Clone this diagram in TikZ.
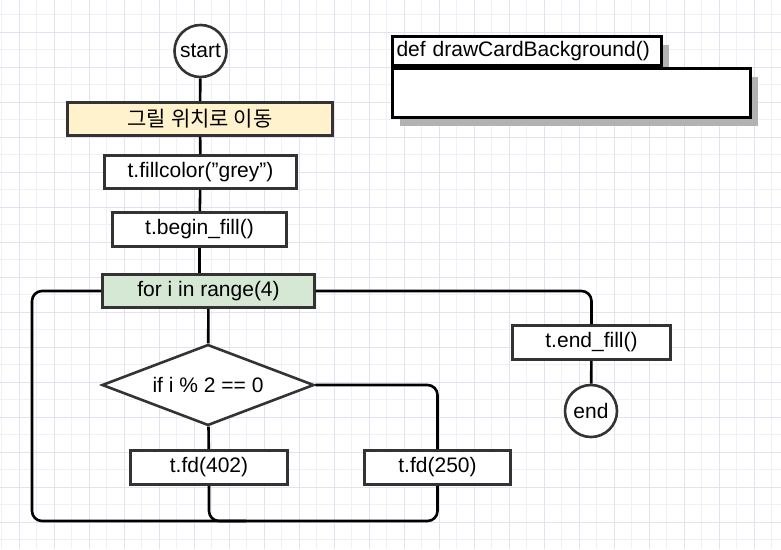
\documentclass[tikz,border=0pt]{standalone}
\usepackage{fontspec}
\setmainfont{Liberation Sans}
\newfontfamily\kofont{Noto Sans CJK KR}
\usetikzlibrary{shapes.geometric,shadows}

\definecolor{gridmaj}{RGB}{226,226,240}
\definecolor{gridmin}{RGB}{240,240,248}
\definecolor{boxline}{RGB}{51,51,51}

\begin{document}
\begin{tikzpicture}[x=1pt,y=-1pt,line width=2.6pt,
    every node/.style = {shape=rectangle, draw=boxline, align=center,
    inner sep=0pt, fill=white, font=\fontsize{21}{24}\selectfont},
    term/.style={shape=circle, minimum size=52pt},
    cond/.style={shape=diamond, aspect=2.56, minimum width=212pt, minimum height=81pt},
    cyellow/.style={fill={rgb,255:red,255;green,242;blue,204}},
    cgreen/.style={fill={rgb,255:red,213;green,232;blue,212}},
    defbox/.style={draw=black, drop shadow={shadow xshift=7pt, shadow yshift=-8pt,
    fill=black!30, opacity=1}},
    link/.style={draw=black, rounded corners=10pt}]
    \useasboundingbox (0,0) rectangle (781,549);
    \fill[white] (0,0) rectangle (781,549);
    % grid
    \foreach \gx in {1.5,36.5,...,781} \draw[gridmin, line width=0.8pt] (\gx,0) -- (\gx,549);
    \foreach \gy in {14.5,49.5,...,549} \draw[gridmin, line width=0.8pt] (0,\gy) -- (781,\gy);
    \foreach \gx in {19,54,...,781} \draw[gridmaj, line width=0.8pt] (\gx,0) -- (\gx,549);
    \foreach \gy in {32,67,...,549} \draw[gridmaj, line width=0.8pt] (0,\gy) -- (781,\gy);

    \node[term] (start) at (200.5, 51) {start};
    \node[cyellow, minimum width=265pt, minimum height=33pt] (move) at (200, 119) {\kofont 그릴 위치로 이동};
    \node[minimum width=192pt, minimum height=33pt] (fillc) at (200.5, 172) {t.fillcolor(\symbol{34}grey\symbol{34})};
    \node[minimum width=174pt, minimum height=34pt] (beginf) at (199.5, 229.5) {t.begin\_fill()};
    \node[cgreen, minimum width=212pt, minimum height=33pt] (loop) at (208.5, 291) {for i in range(4)};
    \node[cond] (even) at (208, 385) {if i \% 2 == 0};
    \node[minimum width=157pt, minimum height=34pt] (fdlong) at (209, 467.5) {t.fd(402)};
    \node[minimum width=146pt, minimum height=34pt] (fdshort) at (437.5, 467.5) {t.fd(250)};
    \node[minimum width=158pt, minimum height=34pt] (endf) at (591.5, 342.5) {t.end\_fill()};
    \node[term] (end) at (591, 411) {end};

    \node[defbox, minimum width=269pt, minimum height=29pt, text width=261pt, align=left]
        (defhead) at (527, 51) {def drawCardBackground()};
    \node[defbox, minimum width=358pt, minimum height=49pt] (defbody) at (571.5, 93) {};

    \coordinate (lowleft) at (32, 521);
    \coordinate (lowend) at (246, 521);
    \coordinate (low) at (0, 521);

    \path[link]
        (start) edge (move)
        (move) edge (fillc)
        (fillc) edge (beginf)
        (loop) edge (even)
        (even) edge (fdlong);
    \draw[link] (beginf.south) -- (beginf.south |- loop.north);
    \draw[link] (even.east) -| (fdshort.north);
    \draw[link] (fdshort.south) |- (fdlong.south |- low) -- (fdlong.south);
    \draw[link] (loop.west) -| (lowleft) -- (lowend);
    \draw[link] (loop.east) -| (endf.north);
    \draw[link] (endf) -- (end);
\end{tikzpicture}
\end{document}
